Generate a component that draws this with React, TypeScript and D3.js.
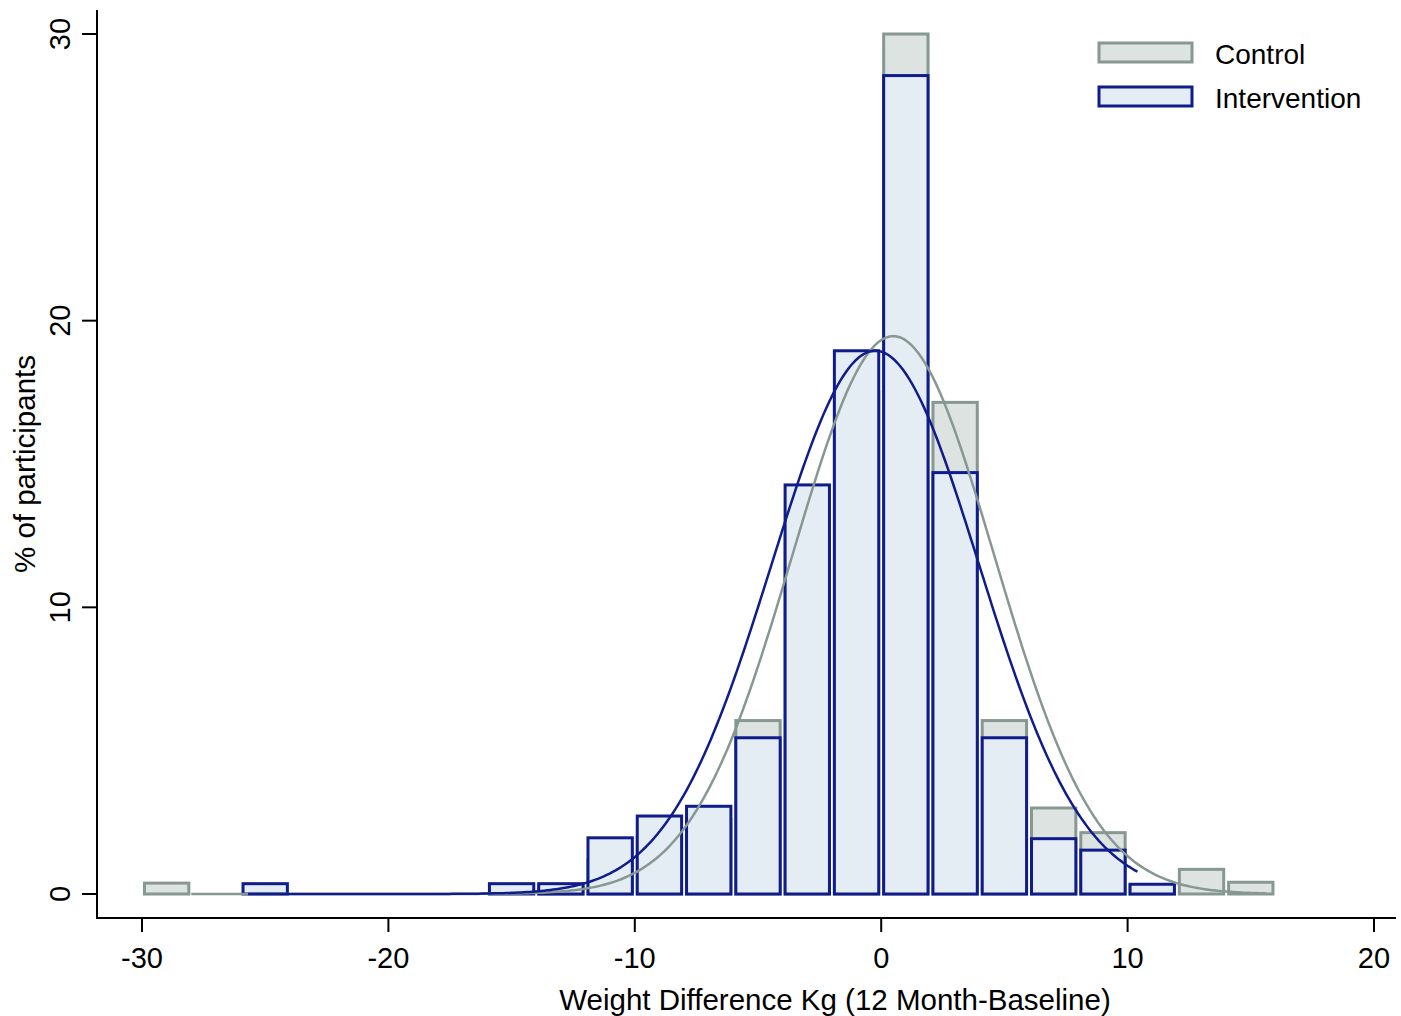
import React, { useEffect, useRef } from 'react';
import * as d3 from 'd3';

// histogram bins, 2 kg wide, labelled by centre
const binCenters = [-29, -27, -25, -23, -21, -19, -17, -15, -13, -11, -9, -7, -5, -3, -1, 1, 3, 5, 7, 9, 11, 13, 15];
const controlPct = [0.38, 0, 0, 0, 0, 0, 0, 0, 0.3, 1.2, 2.0, 2.6, 6.05, 12.5, 17.5, 30.0, 17.15, 6.05, 3.0, 2.14, 0.3, 0.86, 0.41];
const interventionPct = [0, 0, 0.36, 0, 0, 0, 0, 0.36, 0.36, 1.96, 2.72, 3.06, 5.45, 14.27, 18.95, 28.55, 14.7, 5.45, 1.93, 1.53, 0.34, 0, 0];

// fitted normal curves (mean, sd, range of data)
const controlFit = { mean: 0.49, sd: 4.1, from: -28, to: 15.6 };
const interventionFit = { mean: -0.24, sd: 4.21, from: -25.7, to: 10.4 };

const xTicks = [-30, -20, -10, 0, 10, 20];
const yTicks = [0, 10, 20, 30];

const FONT = '"Liberation Sans", Arial, sans-serif';
const CONTROL_STROKE = '#879791';
const CONTROL_FILL = '#dce3e1';
const INT_STROKE = '#101c8c';
const INT_FILL = '#e4edf3';

export default function App() {
  const ref = useRef<SVGSVGElement>(null);

  useEffect(() => {
    const svg = d3.select(ref.current);
    svg.selectAll('*').remove();

    const x = d3.scaleLinear().domain([-30, 20]).range([142, 1374]);
    const y = d3.scaleLinear().domain([0, 30]).range([894, 34]);
    const half = 0.9; // bar half width in kg

    const drawBars = (vals: number[], fill: string, stroke: string) => {
      svg.append('g')
        .selectAll('rect')
        .data(binCenters.map((c, i) => ({ c, v: vals[i] })).filter(d => d.v > 0))
        .enter()
        .append('rect')
        .attr('x', d => x(d.c - half))
        .attr('y', d => y(d.v))
        .attr('width', d => x(d.c + half) - x(d.c - half))
        .attr('height', d => y(0) - y(d.v))
        .attr('fill', fill)
        .attr('stroke', stroke)
        .attr('stroke-width', 3);
    };

    drawBars(controlPct, CONTROL_FILL, CONTROL_STROKE);
    drawBars(interventionPct, INT_FILL, INT_STROKE);

    // normal density scaled to percent per 2 kg bin
    const normal = (fit: typeof controlFit) => {
      const pts: [number, number][] = [];
      const n = 300;
      for (let i = 0; i <= n; i++) {
        const v = fit.from + (fit.to - fit.from) * i / n;
        const z = (v - fit.mean) / fit.sd;
        pts.push([v, 200 / (fit.sd * Math.sqrt(2 * Math.PI)) * Math.exp(-0.5 * z * z)]);
      }
      return pts;
    };
    const line = d3.line<[number, number]>().x(d => x(d[0])).y(d => y(d[1]));

    svg.append('path').attr('d', line(normal(controlFit)))
      .attr('fill', 'none').attr('stroke', CONTROL_STROKE).attr('stroke-width', 2.5);
    svg.append('path').attr('d', line(normal(interventionFit)))
      .attr('fill', 'none').attr('stroke', INT_STROKE).attr('stroke-width', 2.5);

    // axes
    const ax = svg.append('g').attr('stroke', '#000').attr('stroke-width', 2);
    ax.append('line').attr('x1', 97).attr('x2', 97).attr('y1', 10).attr('y2', 919);
    ax.append('line').attr('x1', 96).attr('x2', 1396).attr('y1', 918).attr('y2', 918);
    ax.selectAll('.yt').data(yTicks).enter().append('line')
      .attr('x1', 82).attr('x2', 97).attr('y1', d => y(d)).attr('y2', d => y(d));
    ax.selectAll('.xt').data(xTicks).enter().append('line')
      .attr('x1', d => x(d)).attr('x2', d => x(d)).attr('y1', 918).attr('y2', 932);

    svg.selectAll('.xl').data(xTicks).enter().append('text')
      .attr('x', d => x(d)).attr('y', 968)
      .attr('text-anchor', 'middle')
      .attr('font-family', FONT).attr('font-size', 29)
      .text(d => String(d));

    svg.selectAll('.yl').data(yTicks).enter().append('text')
      .attr('transform', d => `translate(70,${y(d)}) rotate(-90)`)
      .attr('text-anchor', 'middle')
      .attr('font-family', FONT).attr('font-size', 29)
      .text(d => String(d));

    svg.append('text')
      .attr('x', 835).attr('y', 1010)
      .attr('text-anchor', 'middle')
      .attr('font-family', FONT).attr('font-size', 29.5)
      .text('Weight Difference Kg (12 Month-Baseline)');

    svg.append('text')
      .attr('transform', 'translate(35,464) rotate(-90)')
      .attr('text-anchor', 'middle')
      .attr('font-family', FONT).attr('font-size', 29.5)
      .text('% of participants');

    // legend
    const legend = [
      { label: 'Control', fill: CONTROL_FILL, stroke: CONTROL_STROKE },
      { label: 'Intervention', fill: INT_FILL, stroke: INT_STROKE },
    ];
    const lg = svg.append('g');
    legend.forEach((d, i) => {
      lg.append('rect')
        .attr('x', 1099).attr('y', 43 + i * 44)
        .attr('width', 93).attr('height', 19)
        .attr('fill', d.fill).attr('stroke', d.stroke).attr('stroke-width', 3);
      lg.append('text')
        .attr('x', 1215).attr('y', 64 + i * 44)
        .attr('font-family', FONT).attr('font-size', 28)
        .text(d.label);
    });
  }, []);

  return (
    <svg ref={ref} width={1401} height={1016}
      style={{ position: 'absolute', left: 0, top: 0, background: '#fff' }} />
  );
}
